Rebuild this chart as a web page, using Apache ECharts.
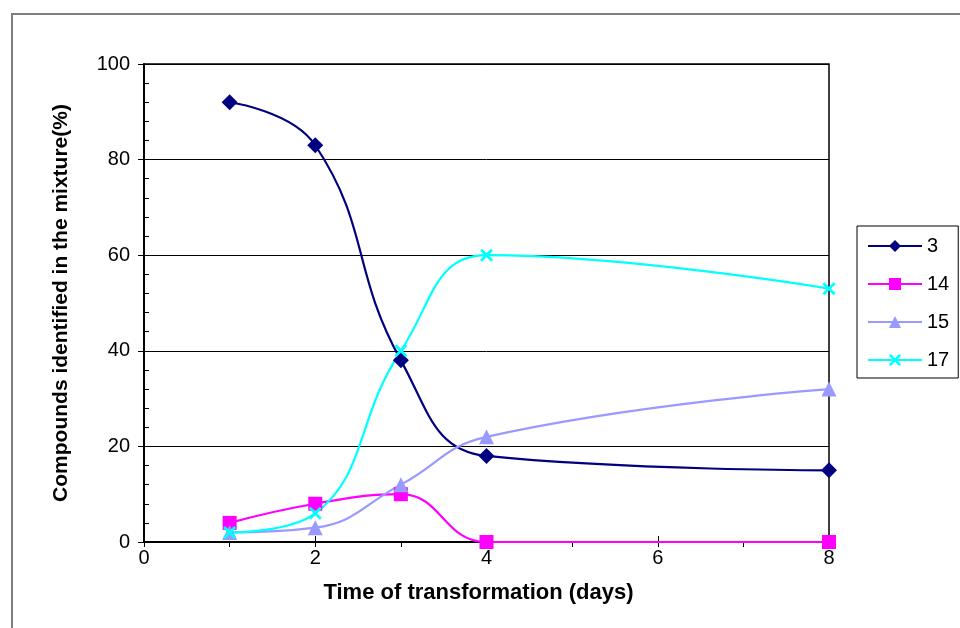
<!DOCTYPE html>
<html>
<head>
<meta charset="utf-8">
<script src="https://cdn.jsdelivr.net/npm/echarts@6/dist/echarts.min.js"></script>
<style>
html,body{margin:0;padding:0;background:#fff;}
#frame{position:absolute;left:11px;top:13px;width:960px;height:640px;border-left:2px solid #7f7f7f;border-top:2px solid #7f7f7f;}
#chart{position:absolute;left:0;top:0;width:960px;height:628px;}
</style>
</head>
<body>
<div id="frame"></div>
<div id="chart"></div>
<script>
var days = [1, 2, 3, 4, 8];
var s3 = [92, 83, 38, 18, 15];
var s14 = [4, 8, 10, 0, 0];
var s15 = [2, 3, 12, 22, 32];
var s17 = [2, 6, 40, 60, 53];
var seriesNames = ['3', '14', '15', '17'];
var xTicks = [0, 2, 4, 6, 8];
var yTicks = [0, 20, 40, 60, 80, 100];

function pairs(v){ return days.map(function(d,i){ return [d, v[i]]; }); }

var xPath = 'path://M0,1.5L1.5,0L5,3.5L8.5,0L10,1.5L6.5,5L10,8.5L8.5,10L5,6.5L1.5,10L0,8.5L3.5,5Z';
var font = 'Liberation Sans, Arial, sans-serif';

function mk(name, data, color, symbol, size){
  return {
    name: name, type: 'line', data: pairs(data), smooth: 0.45,
    xAxisIndex: 0, yAxisIndex: 0,
    symbol: symbol, symbolSize: size, showSymbol: true,
    lineStyle: {color: color, width: 2.2},
    itemStyle: {color: color},
    emphasis: {disabled: true}
  };
}

var xMin = xTicks[0], xMax = xTicks[xTicks.length-1];
var yMin = yTicks[0], yMax = yTicks[yTicks.length-1];

var chart = echarts.init(document.getElementById('chart'), null, {renderer:'canvas'});
chart.setOption({
  animation: false,
  backgroundColor: 'transparent',
  grid: {left: 144, top: 64, right: 131, bottom: 86, show: true, borderColor: '#000', borderWidth: 1.5, containLabel: false},
  legend: {
    orient: 'vertical', left: 857, top: 226,
    padding: [10, 9, 8, 10],
    itemWidth: 54, itemHeight: 15, itemGap: 18,
    borderColor: '#000', borderWidth: 1, backgroundColor: '#fff',
    data: seriesNames,
    textStyle: {fontFamily: font, fontSize: 20, color: '#000'}
  },
  xAxis: [{
    type: 'value', min: xMin, max: xMax, interval: 2,
    name: 'Time of transformation (days)', nameLocation: 'middle', nameGap: 40,
    nameTextStyle: {fontFamily: font, fontSize: 22, fontWeight: 'bold', color: '#000', padding: [0, 16, 0, 0]},
    axisLine: {lineStyle: {color: '#000', width: 2}},
    axisTick: {show: true, inside: true, length: 6, lineStyle: {color: '#000'}},
    axisLabel: {fontFamily: font, fontSize: 20, color: '#000', margin: 6},
    splitLine: {show: false}
  }, {
    type: 'value', min: xMin, max: xMax, interval: 1, position: 'bottom', offset: 0,
    axisLine: {show: false},
    axisTick: {show: true, inside: false, length: 5, lineStyle: {color: '#000'}},
    axisLabel: {show: false},
    splitLine: {show: false}
  }],
  yAxis: [{
    type: 'value', min: yMin, max: yMax, interval: 20,
    name: 'Compounds identified in the mixture(%)', nameLocation: 'middle', nameGap: 72, nameRotate: 90,
    nameTextStyle: {fontFamily: font, fontSize: 21, fontWeight: 'bold', color: '#000'},
    axisLine: {show: true, lineStyle: {color: '#000', width: 2}},
    axisTick: {show: true, length: 6, lineStyle: {color: '#000'}},
    axisLabel: {fontFamily: font, fontSize: 20, color: '#000', margin: 14},
    splitLine: {show: true, lineStyle: {color: '#000', width: 1}}
  }, {
    type: 'value', min: yMin, max: yMax, interval: 4, position: 'left', offset: 0,
    axisLine: {show: false},
    axisTick: {show: true, inside: true, length: 5, lineStyle: {color: '#000'}},
    axisLabel: {show: false},
    splitLine: {show: false}
  }],
  series: [
    mk(seriesNames[0], s3, '#000080', 'diamond', 16),
    mk(seriesNames[1], s14, '#ff00ff', 'rect', 14),
    mk(seriesNames[2], s15, '#9999ff', 'triangle', 15),
    mk(seriesNames[3], s17, '#00ffff', xPath, 13)
  ]
});
</script>
</body>
</html>
